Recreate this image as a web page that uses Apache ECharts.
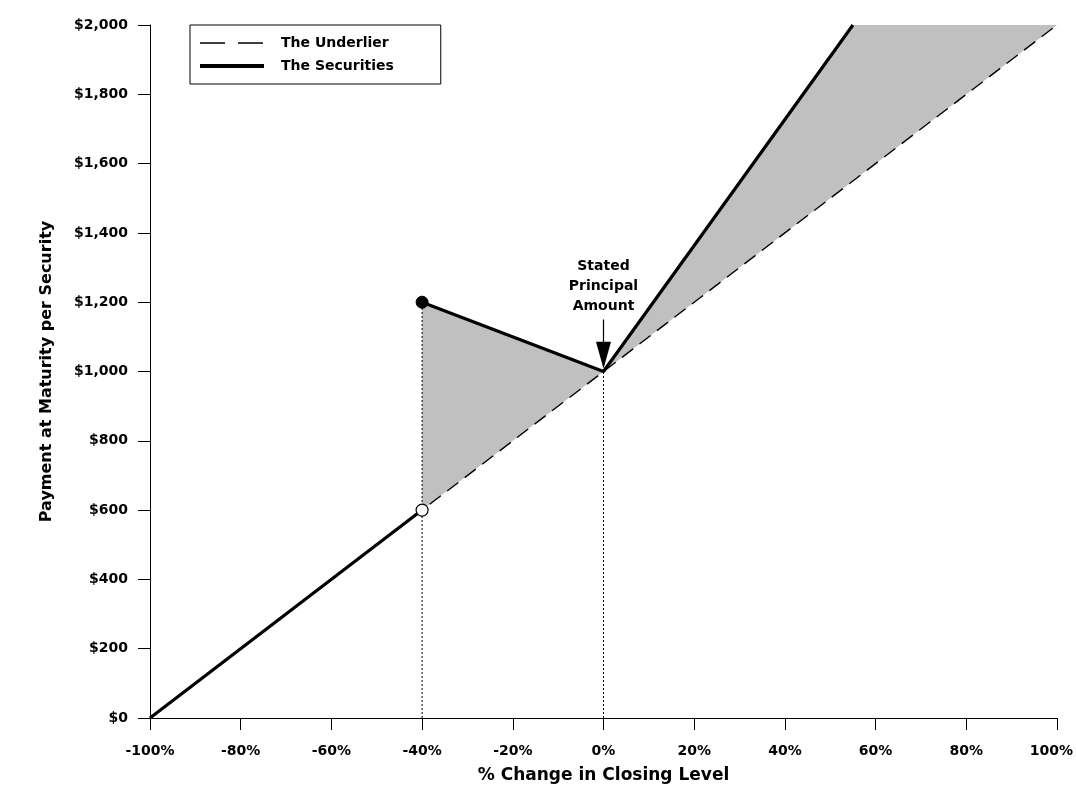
<!doctype html>
<html>
<head>
<meta charset="UTF-8">
<title>Payment at Maturity</title>
<script src="https://cdn.jsdelivr.net/npm/echarts@6/dist/echarts.min.js"></script>
<style>
  html, body { margin: 0; padding: 0; background: #fff; }
  #chart { width: 1076px; height: 801px; }
</style>
</head>
<body>
<div id="chart"></div>
<script>
// underlier: straight 1:1 line
var underlierX = [-100, 100];
var underlierY = [0, 2000];
// securities payoff, split at the -40% barrier
var secLowX = [-100, -40];
var secLowY = [0, 600];
var secHighX = [-40, 0, 55];
var secHighY = [1200, 1000, 2000];
// shaded gap between the two
var shadeX = [-40, 0, 55, 100];
var shadeLow = [600, 1000, 1550, 2000];
var shadeHigh = [1200, 1000, 2000, 2000];
// dotted guides
var guideX = [-40, 0];
var guideY = [1200, 1000];
// markers
var openDot = [-40, 600];
var closedDot = [-40, 1200];
var arrowTop = [0, 1150];
var arrowTip = [0, 1008];

var font = '"DejaVu Sans", "Liberation Sans", Arial, sans-serif';

function pairs(xs, ys) {
  return xs.map(function (x, i) { return [x, ys[i]]; });
}

var guideSeries = guideX.map(function (x, i) {
  return {
    type: 'line',
    data: [[x, 0], [x, guideY[i]]],
    symbol: 'none',
    silent: true,
    lineStyle: { color: '#000', width: 1, type: [2, 2] },
    z: 3
  };
});

var chart = echarts.init(document.getElementById('chart'));
chart.setOption({
  animation: false,
  backgroundColor: '#fff',
  grid: { left: 150, right: 19, top: 25, bottom: 83, outerBoundsMode: 'none' },
  legend: {
    data: [
      { name: 'The Underlier', lineStyle: { type: [25, 13], width: 1.3 } },
      { name: 'The Securities', lineStyle: { width: 4 } }
    ],
    orient: 'vertical',
    left: 190,
    top: 25,
    padding: [11, 47, 11, 8],
    itemWidth: 64,
    itemHeight: 14,
    itemGap: 9,
    borderColor: '#000',
    borderWidth: 1,
    backgroundColor: '#fff',
    itemStyle: { opacity: 0 },
    textStyle: { fontFamily: font, fontWeight: 'bold', fontSize: 14, color: '#000', padding: [0, 0, 0, 12] }
  },
  xAxis: {
    type: 'value',
    min: -100,
    max: 100,
    interval: 20,
    name: '% Change in Closing Level',
    nameLocation: 'middle',
    nameGap: 49,
    nameTextStyle: { fontFamily: font, fontWeight: 'bold', fontSize: 17, color: '#000' },
    axisLine: { onZero: false, lineStyle: { color: '#000', width: 1 } },
    axisTick: { length: 12, lineStyle: { color: '#000' } },
    axisLabel: {
      margin: 26,
      alignMaxLabel: 'right',
      fontFamily: font, fontWeight: 'bold', fontSize: 14, color: '#000',
      formatter: function (v) { return v === 100 ? '{last|' + v + '%}' : v + '%'; },
      rich: {
        last: { fontFamily: font, fontWeight: 'bold', fontSize: 14, color: '#000', padding: [0, -16, 0, 0] }
      }
    },
    splitLine: { show: false }
  },
  yAxis: {
    type: 'value',
    min: 0,
    max: 2000,
    interval: 200,
    name: 'Payment at Maturity per Security',
    nameLocation: 'middle',
    nameGap: 95,
    nameTextStyle: { fontFamily: font, fontWeight: 'bold', fontSize: 16, color: '#000' },
    axisLine: { show: true, onZero: false, lineStyle: { color: '#000', width: 1 } },
    axisTick: { show: true, length: 12, lineStyle: { color: '#000' } },
    axisLabel: {
      margin: 22,
      fontFamily: font, fontWeight: 'bold', fontSize: 14, color: '#000',
      formatter: function (v) { return '$' + v.toLocaleString('en-US'); }
    },
    splitLine: { show: false }
  },
  series: [
    {
      type: 'custom',
      silent: true,
      data: [[0, 0]],
      z: 1,
      renderItem: function (params, api) {
        var pts = [];
        for (var i = 0; i < shadeX.length; i++) pts.push(api.coord([shadeX[i], shadeHigh[i]]));
        for (var j = shadeX.length - 1; j >= 0; j--) pts.push(api.coord([shadeX[j], shadeLow[j]]));
        return { type: 'polygon', shape: { points: pts }, style: { fill: '#c0c0c0', stroke: null } };
      }
    },
    {
      name: 'The Underlier',
      type: 'line',
      data: pairs(underlierX, underlierY),
      symbol: 'none',
      lineStyle: { color: '#000', width: 1.4, type: [14, 8] },
      itemStyle: { color: '#000' },
      z: 4
    },
    {
      name: 'The Securities',
      type: 'line',
      data: pairs(secLowX, secLowY),
      symbol: 'none',
      lineStyle: { color: '#000', width: 3.2 },
      itemStyle: { color: '#000' },
      z: 5
    },
    {
      name: 'The Securities',
      type: 'line',
      data: pairs(secHighX, secHighY),
      symbol: 'none',
      lineStyle: { color: '#000', width: 3.2 },
      itemStyle: { color: '#000' },
      z: 5
    }
  ].concat(guideSeries).concat([
    {
      type: 'line',
      data: [arrowTop, [arrowTip[0], arrowTip[1] + 40]],
      symbol: 'none',
      silent: true,
      lineStyle: { color: '#000', width: 1.2 },
      z: 6
    },
    {
      type: 'scatter',
      silent: true,
      data: [arrowTip],
      symbol: 'path://M0,0 L14,0 L7,26 Z',
      symbolSize: [15, 27],
      symbolOffset: [0, '-50%'],
      itemStyle: { color: '#000', opacity: 1 },
      z: 7
    },
    {
      type: 'scatter',
      silent: true,
      data: [arrowTop],
      symbolSize: 0,
      itemStyle: { color: '#000', opacity: 1 },
      label: {
        show: true,
        position: 'top',
        distance: 3,
        formatter: 'Stated\nPrincipal\nAmount',
        fontFamily: font, fontWeight: 'bold', fontSize: 14, lineHeight: 20,
        color: '#000', opacity: 1, align: 'center'
      },
      z: 7
    },
    {
      type: 'scatter',
      silent: true,
      data: [closedDot],
      symbolSize: 12,
      itemStyle: { color: '#000', borderColor: '#000', borderWidth: 1, opacity: 1 },
      z: 8
    },
    {
      type: 'scatter',
      silent: true,
      data: [openDot],
      symbolSize: 12,
      itemStyle: { color: '#fff', borderColor: '#000', borderWidth: 1.2, opacity: 1 },
      z: 8
    }
  ])
});
</script>
</body>
</html>
